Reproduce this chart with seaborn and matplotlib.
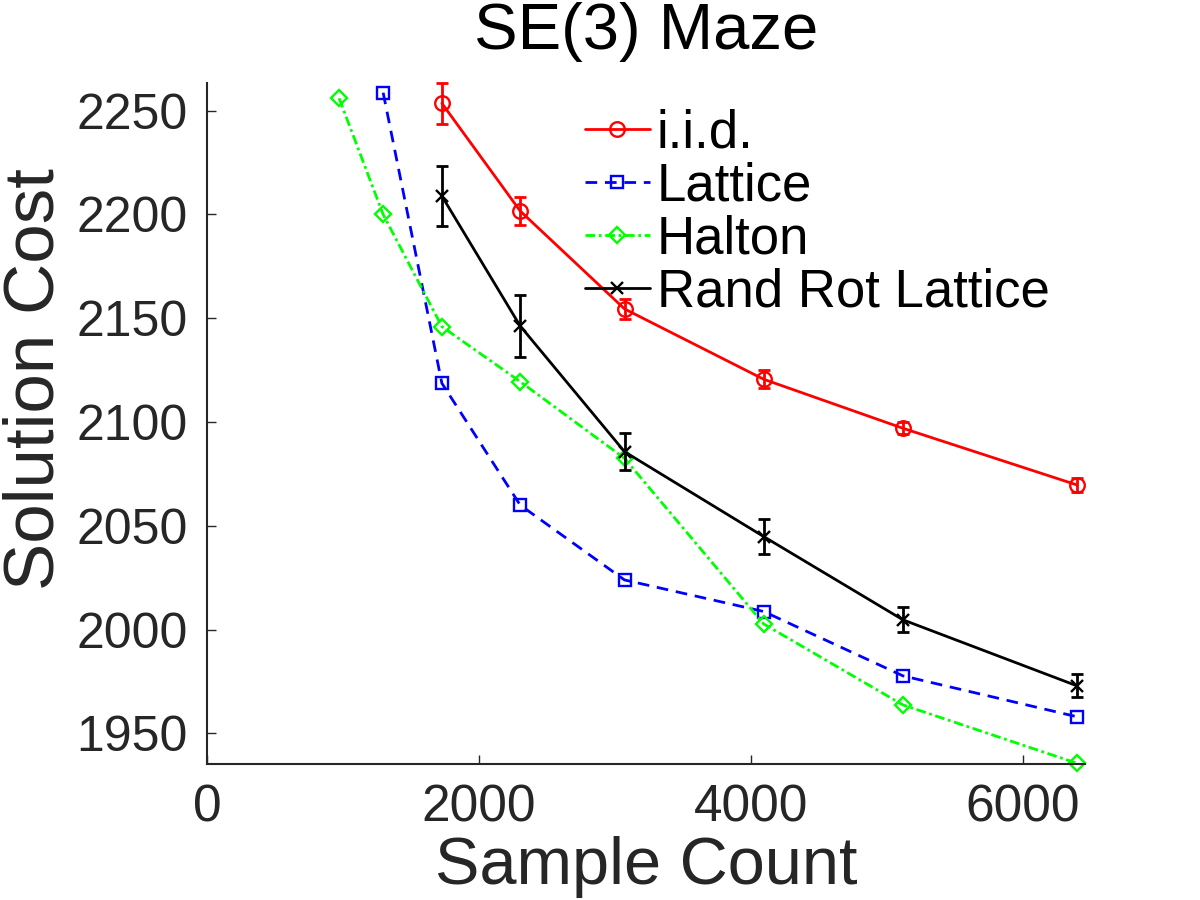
import matplotlib
matplotlib.use("Agg")
import matplotlib.pyplot as plt
import seaborn as sns
import numpy as np

# ---- data ----
x_iid = [1728, 2304, 3072, 4096, 5120, 6400]
y_iid = [2253.6, 2201.7, 2154.5, 2120.6, 2097.0, 2069.7]
e_iid = [9.9, 6.6, 5.0, 4.3, 3.0, 3.4]

x_lat = [1296, 1728, 2304, 3072, 4096, 5120, 6400]
y_lat = [2258.7, 2118.7, 2060.0, 2023.9, 2008.7, 1977.7, 1958.0]

x_hal = [972, 1296, 1728, 2304, 3072, 4096, 5120, 6400]
y_hal = [2256.0, 2200.0, 2146.0, 2119.5, 2082.5, 2002.7, 1963.7, 1935.6]

x_rrl = [1728, 2304, 3072, 4096, 5120, 6400]
y_rrl = [2208.9, 2146.3, 2085.7, 2044.8, 2004.7, 1972.9]
e_rrl = [14.5, 15.0, 9.0, 8.5, 6.0, 5.5]

labels = ["i.i.d.", "Lattice", "Halton", "Rand Rot Lattice"]
x_ticks = [0, 2000, 4000, 6000]
y_ticks = [1950, 2000, 2050, 2100, 2150, 2200, 2250]

# ---- style ----
sns.set_style("ticks")
plt.rcParams['font.family'] = ['Liberation Sans', 'DejaVu Sans']
plt.rcParams['xtick.direction'] = 'in'
plt.rcParams['ytick.direction'] = 'in'

fig = plt.figure(figsize=(12, 9), dpi=100)
ax = fig.add_axes([0.1725, 0.1506, 0.7317, 0.7575])

lw = 2.0
txtc = '#262626'

sns.lineplot(x=x_iid, y=y_iid, ax=ax, color='red', marker='o', markersize=10.5,
             markerfacecolor='none', markeredgecolor='red', markeredgewidth=1.7,
             linewidth=lw, linestyle='-', label=labels[0], clip_on=False)
sns.lineplot(x=x_lat, y=y_lat, ax=ax, color='blue', marker='s', markersize=8.5,
             markerfacecolor='none', markeredgecolor='blue', markeredgewidth=1.7,
             linewidth=lw, linestyle=(0, (4.2, 2.8)), label=labels[1], clip_on=False)
sns.lineplot(x=x_hal, y=y_hal, ax=ax, color='#00ff00', marker='D', markersize=8.5,
             markerfacecolor='none', markeredgecolor='#00ff00', markeredgewidth=1.7,
             linewidth=lw, linestyle=(0, (3.5, 1.3, 1.0, 1.3)), label=labels[2], clip_on=False)
sns.lineplot(x=x_rrl, y=y_rrl, ax=ax, color='black', marker='x', markersize=8,
             markeredgecolor='black', markeredgewidth=1.7,
             linewidth=lw, linestyle='-', label=labels[3], clip_on=False)

ax.errorbar(x_iid, y_iid, yerr=e_iid, fmt='none', ecolor='red', elinewidth=lw,
            capsize=4.5, capthick=lw, clip_on=False)
ax.errorbar(x_rrl, y_rrl, yerr=e_rrl, fmt='none', ecolor='black', elinewidth=lw,
            capsize=4.5, capthick=lw, clip_on=False)

ax.set_xlim(0, 6460)
ax.set_ylim(1935, 2263.5)
ax.set_xticks(x_ticks)
ax.set_yticks(y_ticks)

sns.despine(ax=ax)
for s in ['left', 'bottom']:
    ax.spines[s].set_linewidth(1.5)
    ax.spines[s].set_color(txtc)
ax.tick_params(axis='both', which='major', length=6.3, width=1.0, color=txtc,
               labelsize=36, labelcolor=txtc, pad=14)
ax.tick_params(axis='x', labelsize=37)

ax.set_title("SE(3) Maze", fontsize=47, color='black', pad=24)
ax.set_xlabel("Sample Count", fontsize=48, color=txtc, labelpad=2)
ax.set_ylabel("Solution Cost", fontsize=51, color=txtc)
ax.yaxis.set_label_coords(-0.158, 0.565)

leg = ax.legend(loc='upper left', bbox_to_anchor=(585 / 1200, 1 - 108 / 900),
                bbox_transform=fig.transFigure, frameon=False, fontsize=38,
                handlelength=1.23, handletextpad=0.13, labelspacing=0.06,
                borderpad=0, borderaxespad=0, markerscale=1.0)
for t in leg.get_texts():
    t.set_color('black')

fig.savefig("out.png", dpi=100)
